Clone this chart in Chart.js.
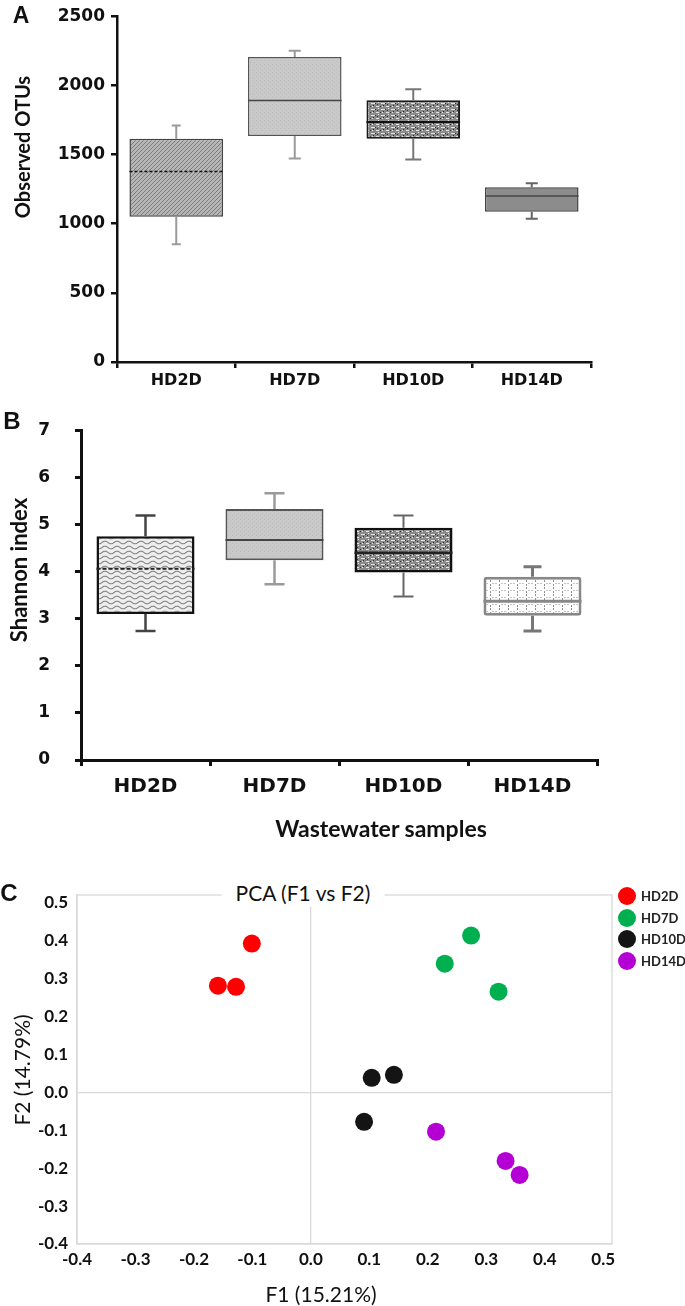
<!DOCTYPE html>
<html><head><meta charset="utf-8">
<script src="https://cdn.jsdelivr.net/npm/chart.js@4.4.1/dist/chart.umd.min.js"></script>
<style>
html,body{margin:0;padding:0;background:#fff;}
#wrap{position:relative;width:685px;height:1306px;overflow:hidden;background:#fff;}
canvas{position:absolute;left:0;}
.t{position:absolute;white-space:nowrap;color:#111;line-height:1;transform:translate(-50%,-50%);}
.r{transform:translate(-50%,-50%) rotate(-90deg);}
.leg{position:absolute;left:618px;font:bold 13px Lato,sans-serif;color:#222;display:flex;align-items:center;height:20px;}
.leg i{display:inline-block;width:18px;height:18px;border-radius:50%;margin-right:5px;}
</style></head><body>
<div id="wrap">
  <canvas id="chartA" width="685" height="395" style="top:0"></canvas>
  <canvas id="chartB" width="685" height="465" style="top:395px"></canvas>
  <canvas id="chartC" width="685" height="436" style="top:870px"></canvas>

  <div class="t" style="left:21px;top:15px;font:bold 23px 'Liberation Sans',Arial,sans-serif;">A</div>
  <div class="t" style="left:12px;top:421px;font:bold 24px 'Liberation Sans',Arial,sans-serif;">B</div>
  <div class="t" style="left:9px;top:893px;font:bold 24px 'Liberation Sans',Arial,sans-serif;">C</div>

  <div class="t r" style="left:22px;top:147px;font:bold 20px Lato,sans-serif;">Observed OTUs</div>
  <div class="t r" style="left:18px;top:570px;font:bold 22px Lato,sans-serif;">Shannon index</div>
  <div class="t" style="left:381px;top:828px;font:bold 23px Lato,sans-serif;">Wastewater samples</div>

  <div class="t" style="left:303px;top:892px;font:21px Lato,sans-serif;background:#fff;padding:2px 14px;">PCA (F1 vs F2)</div>
  <div class="t r" style="left:21px;top:1070px;font:21px Lato,sans-serif;">F2 (14.79%)</div>
  <div class="t" style="left:321px;top:1293px;font:21px Lato,sans-serif;">F1 (15.21%)</div>
  <div id="legend"></div>
</div>
<script>
// ---------- DATA ----------
const categories = ['HD2D', 'HD7D', 'HD10D', 'HD14D'];

// Panel A: Observed OTUs (box plot)
const otuMin    = [851, 1471, 1464, 1036];
const otuQ1     = [1050, 1634, 1614, 1086];
const otuMedian = [1378, 1890, 1736, 1200];
const otuQ3     = [1614, 2205, 1893, 1264];
const otuMax    = [1710, 2250, 1971, 1293];

// Panel B: Shannon index (box plot)
const shMin    = [2.74, 3.73, 3.47, 2.74];
const shQ1     = [3.10, 4.24, 3.98, 3.06];
const shMedian = [4.06, 4.67, 4.40, 3.37];
const shQ3     = [4.75, 5.33, 4.93, 3.89];
const shMax    = [5.19, 5.66, 5.19, 4.10];

// Panel C: PCA scores (F1, F2)
const hd2dF1  = [-0.159, -0.128, -0.101];
const hd2dF2  = [0.281, 0.278, 0.392];
const hd7dF1  = [0.274, 0.229, 0.321];
const hd7dF2  = [0.413, 0.339, 0.265];
const hd10dF1 = [0.104, 0.142, 0.091];
const hd10dF2 = [0.038, 0.046, -0.078];
const hd14dF1 = [0.214, 0.333, 0.357];
const hd14dF2 = [-0.104, -0.181, -0.218];

// ---------- STYLES ----------
function pattern(w, h, draw) {
  const c = document.createElement('canvas'); c.width = w; c.height = h;
  const g = c.getContext('2d'); draw(g, w, h);
  return g.createPattern(c, 'repeat');
}
const patDiag = pattern(4, 4, (g) => {
  g.fillStyle = '#b6b6b6'; g.fillRect(0, 0, 4, 4);
  g.strokeStyle = '#7c7c7c'; g.lineWidth = 1;
  g.beginPath(); g.moveTo(-1, 1); g.lineTo(1, -1); g.moveTo(0, 4); g.lineTo(4, 0); g.moveTo(3, 5); g.lineTo(5, 3); g.stroke();
});
const patLight = pattern(4, 4, (g) => {
  g.fillStyle = '#c9c9c9'; g.fillRect(0, 0, 4, 4);
  g.fillStyle = '#bdbdbd'; g.fillRect(0, 0, 1, 1); g.fillRect(2, 2, 1, 1);
});
const patSpeckle = pattern(10, 6, (g) => {
  g.fillStyle = '#8a8a8a'; g.fillRect(0, 0, 10, 6);
  g.fillStyle = '#e4e4e4'; g.fillRect(1, 1, 4, 1); g.fillRect(6, 4, 3, 1); g.fillRect(8, 0, 1, 1); g.fillRect(2, 4, 1, 1);
  g.fillStyle = '#2e2e2e'; g.fillRect(5, 1, 1, 1); g.fillRect(0, 4, 1, 1); g.fillRect(3, 3, 1, 1); g.fillRect(7, 2, 1, 1);
});
const patWave = pattern(12, 5, (g) => {
  g.fillStyle = '#eeeeee'; g.fillRect(0, 0, 12, 5);
  g.strokeStyle = '#858585'; g.lineWidth = 1.1; g.beginPath();
  for (let x = 0; x <= 12; x += 0.5) { const y = 2.5 + 1.3 * Math.sin(2 * Math.PI * x / 12); x === 0 ? g.moveTo(x, y) : g.lineTo(x, y); }
  g.stroke();
});
const patGrid = pattern(9, 7, (g) => {
  g.fillStyle = '#ffffff'; g.fillRect(0, 0, 9, 7);
  g.fillStyle = '#8f8f8f'; g.fillRect(4, 0, 1, 2); g.fillRect(4, 3, 1, 2);
  g.fillStyle = '#c4c4c4'; g.fillRect(0, 6, 2, 1); g.fillRect(6, 6, 2, 1);
});

const styleA = {
  fill: [patDiag, patLight, patSpeckle, '#8c8c8c'],
  border: ['#444', '#555', '#1a1a1a', '#444'],
  borderWidth: [1.5, 1.5, 2, 1.5],
  radius: [0, 0, 0, 0],
  whisker: [{c: '#9a9a9a', w: 2, cap: 9}, {c: '#9a9a9a', w: 2, cap: 12}, {c: '#777', w: 2, cap: 16}, {c: '#666', w: 2, cap: 12}],
  median: [{c: '#111', w: 1.5, d: [3, 2]}, {c: '#444', w: 1.5, d: []}, {c: '#111', w: 2, d: []}, {c: '#444', w: 1.5, d: []}]
};
const styleB = {
  fill: [patWave, patLight, patSpeckle, patGrid],
  border: ['#111', '#555', '#111', '#888'],
  borderWidth: [2.5, 2, 2.5, 3],
  radius: [0, 0, 0, 3],
  whisker: [{c: '#444', w: 2.5, cap: 20}, {c: '#9a9a9a', w: 2.5, cap: 20}, {c: '#666', w: 2, cap: 20}, {c: '#777', w: 3, cap: 18}],
  median: [{c: '#222', w: 2, d: [4, 2]}, {c: '#444', w: 2, d: []}, {c: '#222', w: 2.5, d: []}, {c: '#888', w: 3, d: []}]
};

function boxPlugin(min, median, max, st) {
  return {
    id: 'boxWhiskers',
    afterDatasetsDraw(chart) {
      const ctx = chart.ctx, y = chart.scales.y;
      chart.getDatasetMeta(0).data.forEach((bar, i) => {
        const x = bar.x, half = bar.width / 2;
        const [lo, hi] = chart.data.datasets[0].data[i];
        const w = st.whisker[i], m = st.median[i];
        const pMin = y.getPixelForValue(min[i]), pMax = y.getPixelForValue(max[i]);
        const pLo = y.getPixelForValue(lo), pHi = y.getPixelForValue(hi), pMed = y.getPixelForValue(median[i]);
        ctx.save();
        ctx.strokeStyle = w.c; ctx.lineWidth = w.w;
        ctx.beginPath();
        ctx.moveTo(x, pHi); ctx.lineTo(x, pMax);
        ctx.moveTo(x - w.cap / 2, pMax); ctx.lineTo(x + w.cap / 2, pMax);
        ctx.moveTo(x, pLo); ctx.lineTo(x, pMin);
        ctx.moveTo(x - w.cap / 2, pMin); ctx.lineTo(x + w.cap / 2, pMin);
        ctx.stroke();
        ctx.setLineDash(m.d); ctx.strokeStyle = m.c; ctx.lineWidth = m.w;
        ctx.beginPath(); ctx.moveTo(x - half, pMed); ctx.lineTo(x + half, pMed); ctx.stroke();
        ctx.restore();
      });
    }
  };
}

function boxChart(id, q1, q3, min, median, max, st, cfg) {
  return new Chart(document.getElementById(id), {
    type: 'bar',
    data: {
      labels: categories,
      datasets: [{
        data: categories.map((c, i) => [q1[i], q3[i]]),
        backgroundColor: st.fill, borderColor: st.border, borderWidth: st.borderWidth,
        borderRadius: st.radius, borderSkipped: false,
        barPercentage: cfg.barPct, categoryPercentage: 1
      }]
    },
    options: {
      responsive: false, animation: false,
      layout: { padding: cfg.padding },
      plugins: { legend: { display: false }, tooltip: { enabled: false } },
      scales: {
        x: {
          offset: true,
          grid: { offset: true, drawOnChartArea: false, drawTicks: true, tickLength: 6, lineWidth: cfg.axisW, color: '#111' },
          border: { display: true, color: '#111', width: cfg.axisW },
          ticks: { color: '#111', font: { family: 'DejaVu Sans', weight: 'bold', size: cfg.xFont }, padding: cfg.xPad, maxRotation: 0 },
          afterFit(s) { s.height = cfg.xH; }
        },
        y: {
          min: cfg.yMin, max: cfg.yMax,
          grid: { drawOnChartArea: false, drawTicks: true, tickLength: 6, lineWidth: cfg.axisW, color: '#111' },
          border: { display: true, color: '#111', width: cfg.axisW },
          ticks: { stepSize: cfg.yStep, callback: v => String(v), color: '#111', font: { family: 'DejaVu Sans', weight: 'bold', size: cfg.yFont }, padding: cfg.yPad },
          afterFit(s) { s.width = cfg.yW; }
        }
      }
    },
    plugins: [boxPlugin(min, median, max, st)]
  });
}

boxChart('chartA', otuQ1, otuQ3, otuMin, otuMedian, otuMax, styleA, {
  barPct: 0.79, padding: { top: 12, right: 94, left: 0, bottom: 0 }, axisW: 2.5,
  xFont: 16, xPad: 3, xH: 33, yMin: 0, yMax: 2500, yStep: 500, yFont: 17, yPad: 6, yW: 117
});
boxChart('chartB', shQ1, shQ3, shMin, shMedian, shMax, styleB, {
  barPct: 0.76, padding: { top: 20, right: 88, left: 0, bottom: 0 }, axisW: 3,
  xFont: 20, xPad: 9, xH: 100, yMin: 0, yMax: 7, yStep: 1, yFont: 17, yPad: 25, yW: 81
});

// ---------- PCA ----------
const pcaSeries = [
  { label: 'HD2D', f1: hd2dF1, f2: hd2dF2, color: '#ff0000' },
  { label: 'HD7D', f1: hd7dF1, f2: hd7dF2, color: '#00b050' },
  { label: 'HD10D', f1: hd10dF1, f2: hd10dF2, color: '#141414' },
  { label: 'HD14D', f1: hd14dF1, f2: hd14dF2, color: '#b400d4' }
];
const frame = {
  id: 'frame',
  beforeDatasetsDraw(chart) {
    const { left, top, right, bottom } = chart.chartArea, ctx = chart.ctx;
    ctx.save(); ctx.strokeStyle = '#d9d9d9'; ctx.lineWidth = 1.3;
    ctx.strokeRect(left, top, right - left, bottom - top); ctx.restore();
  }
};
const zeroColor = (c) => (c.tick && Math.abs(c.tick.value) < 1e-9) ? '#dadada' : 'rgba(0,0,0,0)';
const pcaTickFont = { family: 'Lato', weight: 'bold', size: 17 };
new Chart(document.getElementById('chartC'), {
  type: 'scatter',
  data: {
    datasets: pcaSeries.map(s => ({
      label: s.label,
      data: s.f1.map((v, i) => ({ x: v, y: s.f2[i] })),
      backgroundColor: s.color, borderWidth: 0, pointRadius: 9, pointHoverRadius: 9
    }))
  },
  options: {
    responsive: false, animation: false,
    layout: { padding: { top: 25, right: 73, left: 0, bottom: 0 } },
    plugins: { legend: { display: false }, tooltip: { enabled: false } },
    scales: {
      x: {
        type: 'linear', min: -0.4, max: 0.515,
        ticks: { stepSize: 0.1, includeBounds: false, callback: v => Number(v).toFixed(1), color: '#111', font: pcaTickFont, padding: 5, maxRotation: 0 },
        grid: { drawTicks: false, color: zeroColor, lineWidth: 1.3 },
        border: { display: true, color: '#d9d9d9', width: 1.3 },
        afterFit(s) { s.height = 62; }
      },
      y: {
        type: 'linear', min: -0.4, max: 0.52,
        ticks: { stepSize: 0.1, includeBounds: false, callback: v => Number(v).toFixed(1), color: '#111', font: pcaTickFont, padding: 9 },
        grid: { drawTicks: false, color: zeroColor, lineWidth: 1.3 },
        border: { display: true, color: '#d9d9d9', width: 1.3 },
        afterFit(s) { s.width = 77; }
      }
    }
  },
  plugins: [frame]
});

// legend
const leg = document.getElementById('legend');
pcaSeries.forEach((s, i) => {
  const d = document.createElement('div');
  d.className = 'leg';
  d.style.top = (886 + i * 21.7) + 'px';
  d.innerHTML = '<i style="background:' + s.color + '"></i>' + s.label;
  leg.appendChild(d);
});
</script>
</body></html>
